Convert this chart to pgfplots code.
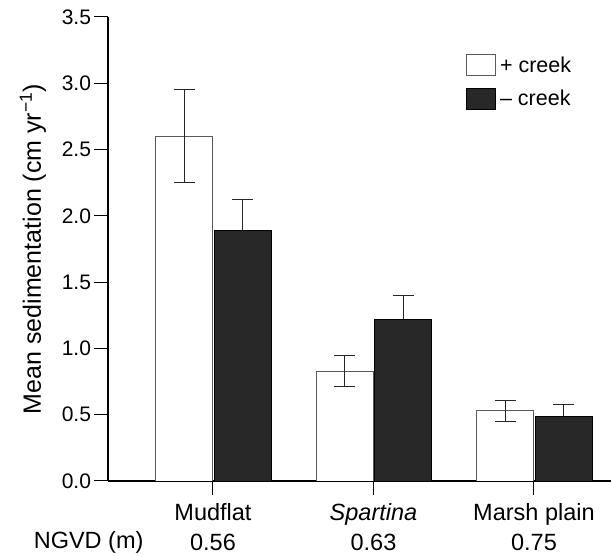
\documentclass[border=0pt]{standalone}
\usepackage{fontspec}
\setmainfont{Liberation Sans}
\usepackage{pgfplots}
\usepackage{pgfplotstable}
\pgfplotsset{compat=1.18}
\pgfplotstableread{
x y e
0.82 2.60 0.35
1.82 0.83 0.115
2.82 0.53 0.08
}\pluscreek
\pgfplotstableread{
x y e
1.185 1.89 0.23
2.185 1.22 0.18
3.185 0.49 0.09
}\minuscreek
\definecolor{barfill}{RGB}{40,40,40}
\begin{document}
\begin{tikzpicture}[font=\fontsize{23.5}{28}\selectfont]
\begin{axis}[
  scale only axis, width=503pt, height=464pt,
  at={(0,0)}, anchor=south west,
  xmin=0.346, xmax=3.48, ymin=0, ymax=3.5,
  axis x line*=bottom, axis y line*=left,
  xtick={1,2,3},
  xticklabels={Mudflat\\[2pt]0.56, \textit{Spartina}\\[2pt]0.63, Marsh plain\\[2pt]0.75},
  ytick={0,0.5,...,3.5},
  /pgf/number format/assume math mode=true,
  yticklabel style={font=\fontsize{21}{24}\selectfont, /pgf/number format/.cd, fixed, fixed zerofill, precision=1},
  xticklabel style={align=center, yshift=-5pt, font=\fontsize{23.5}{28}\selectfont},
  tick align=outside, major tick length=13.5pt,
  tick style={black, line width=1pt},
  axis line style={line width=1.4pt},
  ylabel={Mean sedimentation (cm yr\textsuperscript{−1})},
  ylabel style={at={(axis description cs:-0.149,0.5)}, anchor=center, font=\fontsize{25}{28}\selectfont},
  legend style={draw=none, fill=none, at={(rel axis cs:0.712,0.92)}, anchor=north west,
     inner sep=0pt, row sep=12pt, font=\fontsize{21.5}{24}\selectfont,
     /tikz/every odd column/.append style={column sep=2pt}},
  legend cell align=left,
  legend image code/.code={\draw[#1] (0pt,-10.5pt) rectangle (29pt,10.5pt);},
]
\addplot[draw=black!65, fill=white, line width=0.7pt, ybar, bar width=0.355, bar shift=0pt,
  error bars/.cd, y dir=both, y explicit,
  error bar style={black!85, line width=1pt},
  error mark options={black!85, rotate=90, mark size=10.5pt, line width=1pt}]
  table[x=x, y=y, y error=e] {\pluscreek};
\addlegendentry{+ creek}
\addplot[draw=black, fill=barfill, line width=0.7pt, ybar, bar width=0.355, bar shift=0pt,
  error bars/.cd, y dir=plus, y explicit,
  error bar style={black!85, line width=1pt},
  error mark options={black!85, rotate=90, mark size=10.5pt, line width=1pt}]
  table[x=x, y=y, y error=e] {\minuscreek};
\addlegendentry{– creek}
\end{axis}
\node[anchor=base east, font=\fontsize{23.5}{28}\selectfont] at (39pt,-68pt) {NGVD (m)};
\pgfresetboundingbox
\path[use as bounding box] (-108pt,-76pt) rectangle (503pt,481pt);
\end{tikzpicture}
\end{document}
